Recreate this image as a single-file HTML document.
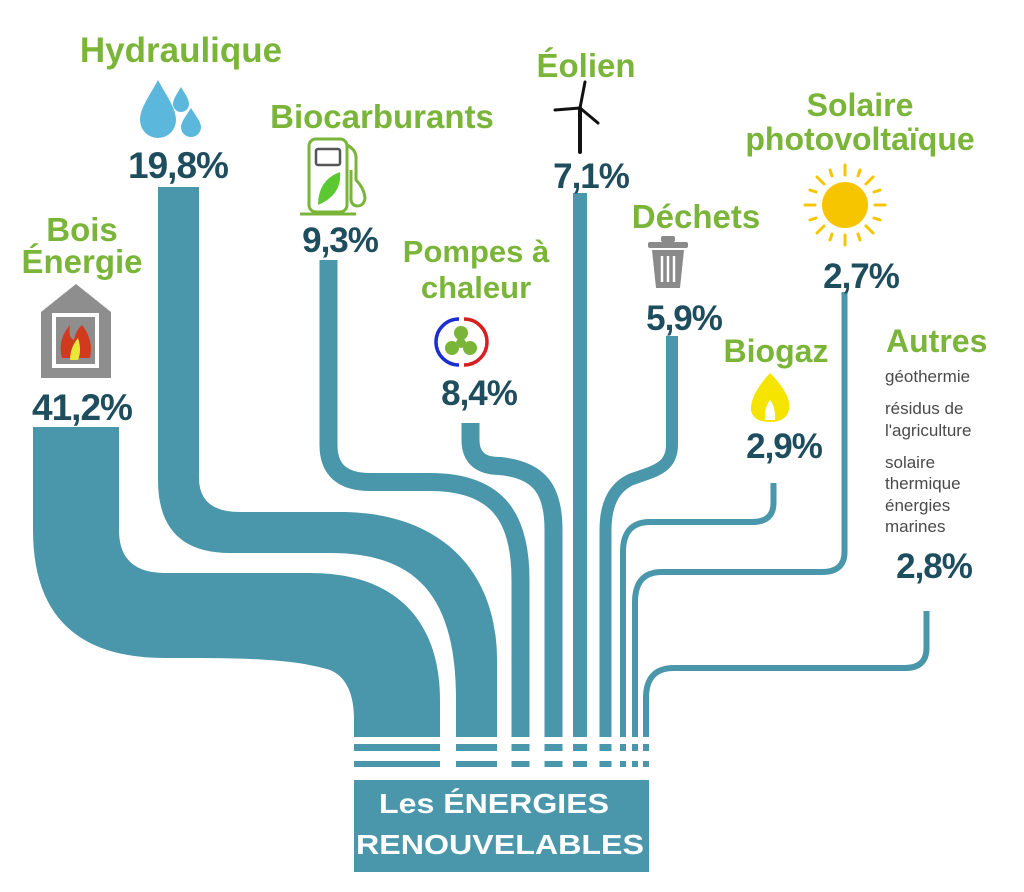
<!DOCTYPE html>
<html><head><meta charset="utf-8"><style>
html,body{margin:0;padding:0;background:#fff;}
svg{display:block;}
.g{fill:#7ab53a;font-family:"Liberation Sans",sans-serif;font-weight:bold;}
.n{fill:#1e4d5e;font-family:"Liberation Sans",sans-serif;font-weight:bold;}
.s{fill:#4a4a4a;font-family:"Liberation Sans",sans-serif;font-size:17px;}
</style></head><body>
<svg width="1024" height="892" viewBox="0 0 1024 892" xmlns="http://www.w3.org/2000/svg">
<g fill="#4a97ab">
<path d="M33,427 H119 V530 Q119,573 165,573 H310 C400,573 440,625 440,700 V767 H354 V720 Q354,680 330,670 C290,658 240,658 165,658 Q33,658 33,530 Z"/>
<path d="M158,187 H199 V478 Q199,512 240,512 H340 C440,512 497,570 497,660 V767 H456 V700 C456,600 420,553 330,553 H230 Q158,553 158,480 Z"/>
</g>
<g fill="none" stroke="#4a97ab" stroke-linecap="butt" stroke-linejoin="round">
<path d="M328.5,260 V445 Q328.5,482 370,482 H430 C500,482 520.5,520 520.5,580 V767" stroke-width="18"/>
<path d="M470.5,423 V440 Q470.5,466 500,466 C540,470 553.5,490 553.5,530 V767" stroke-width="18"/>
<path d="M580,193 V767" stroke-width="14"/>
<path d="M672,336 V445 C672,470 650,472 630,480 Q605.5,492 605.5,530 V767" stroke-width="12"/>
<path d="M773.5,483 V503 Q773.5,522 752,522 H650 Q623,522 623,552 V767" stroke-width="6"/>
<path d="M844.5,292 V552 Q844.5,572 822,572 H662 Q635,572 635,602 V767" stroke-width="6"/>
<path d="M926.5,611 V648 Q926.5,668 905,668 H674 Q646,668 646,698 V767" stroke-width="6"/>
</g>
<rect x="340" y="737" width="330" height="7" fill="#fff"/>
<rect x="340" y="751" width="330" height="10" fill="#fff"/>
<rect x="354" y="780" width="295" height="92" fill="#4a97ab"/>
<text x="379" y="813" textLength="230" lengthAdjust="spacingAndGlyphs" fill="#fff" font-family="Liberation Sans,sans-serif" font-weight="bold" font-size="28">Les ÉNERGIES</text>
<text x="356" y="854" textLength="288" lengthAdjust="spacingAndGlyphs" fill="#fff" font-family="Liberation Sans,sans-serif" font-weight="bold" font-size="28">RENOUVELABLES</text>

<text class="g" x="181" y="62" text-anchor="middle" font-size="35">Hydraulique</text>
<text class="n" x="178" y="178" text-anchor="middle" font-size="37" letter-spacing="-1">19,8%</text>
<text class="g" x="382" y="128" text-anchor="middle" font-size="33">Biocarburants</text>
<text class="n" x="340" y="252" text-anchor="middle" font-size="35" letter-spacing="-1">9,3%</text>
<text class="g" x="82" y="241" text-anchor="middle" font-size="33">Bois</text>
<text class="g" x="82" y="273" text-anchor="middle" font-size="33">Énergie</text>
<text class="n" x="82" y="420" text-anchor="middle" font-size="37" letter-spacing="-1">41,2%</text>
<text class="g" x="476" y="262" text-anchor="middle" font-size="31">Pompes à</text>
<text class="g" x="476" y="298" text-anchor="middle" font-size="31">chaleur</text>
<text class="n" x="479" y="405" text-anchor="middle" font-size="35" letter-spacing="-1">8,4%</text>
<text class="g" x="586" y="77" text-anchor="middle" font-size="33">Éolien</text>
<text class="n" x="591" y="188" text-anchor="middle" font-size="35" letter-spacing="-1">7,1%</text>
<text class="g" x="696" y="228" text-anchor="middle" font-size="33">Déchets</text>
<text class="n" x="684" y="330" text-anchor="middle" font-size="35" letter-spacing="-1">5,9%</text>
<text class="g" x="860" y="116" text-anchor="middle" font-size="32">Solaire</text>
<text class="g" x="860" y="150" text-anchor="middle" font-size="32">photovoltaïque</text>
<text class="n" x="861" y="288" text-anchor="middle" font-size="35" letter-spacing="-1">2,7%</text>
<text class="g" x="776" y="362" text-anchor="middle" font-size="32">Biogaz</text>
<text class="n" x="784" y="458" text-anchor="middle" font-size="35" letter-spacing="-1">2,9%</text>
<text class="g" x="886" y="352" font-size="32">Autres</text>
<text class="s" x="885" y="382">géothermie</text>
<text class="s" x="885" y="414">résidus de</text>
<text class="s" x="885" y="436">l'agriculture</text>
<text class="s" x="885" y="468">solaire</text>
<text class="s" x="885" y="489">thermique</text>
<text class="s" x="885" y="511">énergies</text>
<text class="s" x="885" y="532">marines</text>
<text class="n" x="934" y="578" text-anchor="middle" font-size="35" letter-spacing="-1">2,8%</text>

<g fill="#5bb8dc">
<path d="M158,80 C150,95 140,108 140,120 A18,18 0 0 0 176,120 C176,108 166,95 158,80Z"/>
<path d="M181,87 C177,94 173,99 173,104 A8,8 0 0 0 189,104 C189,99 185,94 181,87Z"/>
<path d="M191,108 C186,116 181,122 181,127 A10,10 0 0 0 201,127 C201,122 196,116 191,108Z"/>
</g>
<g fill="none" stroke="#7ab53a" stroke-width="3">
<rect x="309" y="139" width="38" height="73" rx="7"/>
<path d="M347,145 Q357,150 356,160 V180 Q364,188 365,198 Q364,206 357,206 Q350,205 351,196 V170"/>
<line x1="300" y1="214" x2="356" y2="214"/>
</g>
<rect x="316" y="149" width="24" height="16" rx="2" fill="#fff" stroke="#555" stroke-width="2.5"/>
<path d="M318,205 Q318,180 340,172 Q342,195 318,205Z" fill="#5cc832"/>
<path d="M41,312 L76,284 L111,312 V378 H41Z" fill="#8e8e8e"/>
<rect x="52" y="313" width="47" height="55" fill="#fff"/>
<rect x="56" y="317" width="39" height="47" fill="#8e8e8e"/>
<path d="M62,358 Q57,340 70,325 Q68,338 74,340 Q76,330 82,325 Q94,340 90,358Z" fill="#d13a1f"/>
<path d="M70,360 Q70,348 78,338 Q82,350 78,360Z" fill="#e8e83a"/>
<path d="M459,319 A23,23 0 0 0 459,365" fill="none" stroke="#1b2fd0" stroke-width="3.5"/>
<path d="M464,319 A23,23 0 0 1 464,365" fill="none" stroke="#d62020" stroke-width="3.5"/>
<g fill="#7ab53a"><circle cx="461" cy="333" r="7"/><circle cx="452" cy="348" r="7"/><circle cx="470" cy="348" r="7"/><circle cx="461" cy="343" r="5"/></g>
<g stroke="#111" stroke-linecap="round">
<line x1="580" y1="108" x2="580" y2="152" stroke-width="4"/>
<line x1="580" y1="108" x2="585" y2="82" stroke-width="3"/>
<line x1="580" y1="108" x2="555" y2="110" stroke-width="3"/>
<line x1="580" y1="108" x2="598" y2="123" stroke-width="3"/>
</g>
<g fill="#8a8a8a">
<rect x="648" y="242" width="40" height="6" rx="2"/>
<rect x="661" y="236" width="14" height="6" rx="2"/>
<path d="M652,250 H684 L680,288 H656Z"/>
</g>
<g stroke="#fff" stroke-width="2.5"><line x1="662" y1="256" x2="662" y2="282"/><line x1="668" y1="256" x2="668" y2="282"/><line x1="674" y1="256" x2="674" y2="282"/></g>
<circle cx="845" cy="205" r="23" fill="#f7c400"/>
<g stroke="#f7c400" stroke-width="3" stroke-linecap="round">
<line x1="845" y1="165" x2="845" y2="175"/><line x1="845" y1="235" x2="845" y2="245"/>
<line x1="805" y1="205" x2="815" y2="205"/><line x1="875" y1="205" x2="885" y2="205"/>
<line x1="817" y1="177" x2="824" y2="184"/><line x1="866" y1="226" x2="873" y2="233"/>
<line x1="873" y1="177" x2="866" y2="184"/><line x1="817" y1="233" x2="824" y2="226"/>
<line x1="830" y1="170" x2="832" y2="176"/><line x1="860" y1="170" x2="858" y2="176"/>
<line x1="830" y1="240" x2="832" y2="234"/><line x1="860" y1="240" x2="858" y2="234"/>
<line x1="810" y1="190" x2="816" y2="192"/><line x1="880" y1="190" x2="874" y2="192"/>
<line x1="810" y1="220" x2="816" y2="218"/><line x1="880" y1="220" x2="874" y2="218"/>
</g>
<path d="M770,373 Q792,395 789,410 Q786,422 770,422 Q753,422 751,410 Q750,395 770,373Z" fill="#f5e400"/>
<path d="M770,400 Q776,408 775,420 H765 Q764,408 770,400Z" fill="#fff"/>
</svg>
</body></html>
